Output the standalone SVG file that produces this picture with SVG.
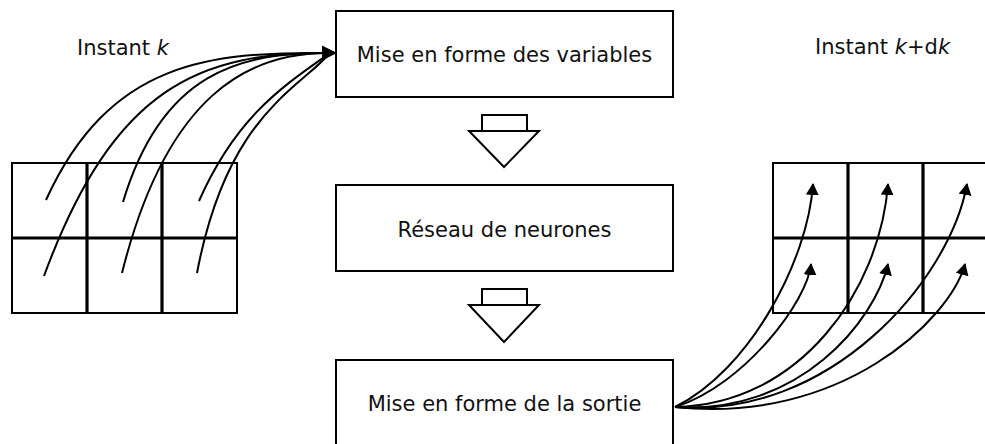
<svg xmlns="http://www.w3.org/2000/svg" width="985" height="444" viewBox="0 0 985 444">
<defs>
<style>
.box{fill:#fff;stroke:#000;stroke-width:2}
.txt{font-family:"DejaVu Sans","Verdana",sans-serif;font-size:21px;fill:#111}
.mid{text-anchor:middle}
.grid{fill:#fff;stroke:#000;stroke-width:2}
.gl{stroke:#000;stroke-width:3.2}
.cv{fill:none;stroke:#000;stroke-width:2}
.blk{fill:#fff;stroke:#000;stroke-width:2}
</style>
<marker id="ah" viewBox="0 0 12 13" refX="11" refY="6.5" markerWidth="12" markerHeight="13" markerUnits="userSpaceOnUse" orient="auto">
<path d="M0,0 L12,6.5 L0,13 z" fill="#000"/>
</marker>
</defs>
<rect width="985" height="444" fill="#fff"/>

<g id="label-k"><text class="txt" x="77" y="55">Instant <tspan font-style="italic">k</tspan></text></g>
<g id="label-kdk"><text class="txt" x="815" y="54">Instant <tspan font-style="italic">k</tspan>+d<tspan font-style="italic">k</tspan></text></g>

<g id="grid-left">
<rect class="grid" x="12" y="163" width="225" height="150"/>
<line class="gl" x1="87" y1="163" x2="87" y2="313"/>
<line class="gl" x1="162" y1="163" x2="162" y2="313"/>
<line class="gl" x1="12" y1="238" x2="237" y2="238"/>
</g>

<g id="grid-right">
<rect class="grid" x="773" y="163" width="225" height="150"/>
<line class="gl" x1="848" y1="163" x2="848" y2="313"/>
<line class="gl" x1="923" y1="163" x2="923" y2="313"/>
<line class="gl" x1="773" y1="238" x2="998" y2="238"/>
</g>

<g id="box-variables">
<rect class="box" x="336" y="11" width="337" height="86"/>
<text class="txt mid" x="504.5" y="62">Mise en forme des variables</text>
</g>
<g id="arrow-1">
<rect class="blk" x="482" y="115" width="45" height="16"/>
<polygon class="blk" points="469,131 539,131 504,167"/>
</g>
<g id="box-reseau">
<rect class="box" x="336" y="185" width="337" height="86"/>
<text class="txt mid" x="504.5" y="237">Réseau de neurones</text>
</g>
<g id="arrow-2">
<rect class="blk" x="482" y="289" width="45" height="16"/>
<polygon class="blk" points="469,305 539,305 504,342"/>
</g>
<g id="box-sortie">
<rect class="box" x="336" y="360" width="337" height="86"/>
<text class="txt mid" x="504.5" y="411">Mise en forme de la sortie</text>
</g>

<g id="connectors">
<path class="cv" d="M46,200 C110,60 210,52 330,53"/>
<path class="cv" d="M44,276 C114,86 200,52 330,53"/>
<path class="cv" d="M123,202 C162,72 240,52 330,53"/>
<path class="cv" d="M122,273 C167,93 250,52 330,53"/>
<path class="cv" d="M199,201 C237,115 285,85 330,53"/>
<path class="cv" d="M197,273 C227,115 298,90 330,53"/>
<polygon points="337,53 322,45.5 322,60.5" fill="#000"/>

<path class="cv" marker-end="url(#ah)" d="M675,407 C750,370 808,260 813,184"/>
<path class="cv" marker-end="url(#ah)" d="M675,407 C745,385 808,300 811,264"/>
<path class="cv" marker-end="url(#ah)" d="M675,407 C800,405 880,290 888,184"/>
<path class="cv" marker-end="url(#ah)" d="M675,407 C800,415 875,320 888,264"/>
<path class="cv" marker-end="url(#ah)" d="M675,407 C830,420 950,280 967,184"/>
<path class="cv" marker-end="url(#ah)" d="M675,407 C840,425 950,320 965,264"/>
</g>
</svg>
